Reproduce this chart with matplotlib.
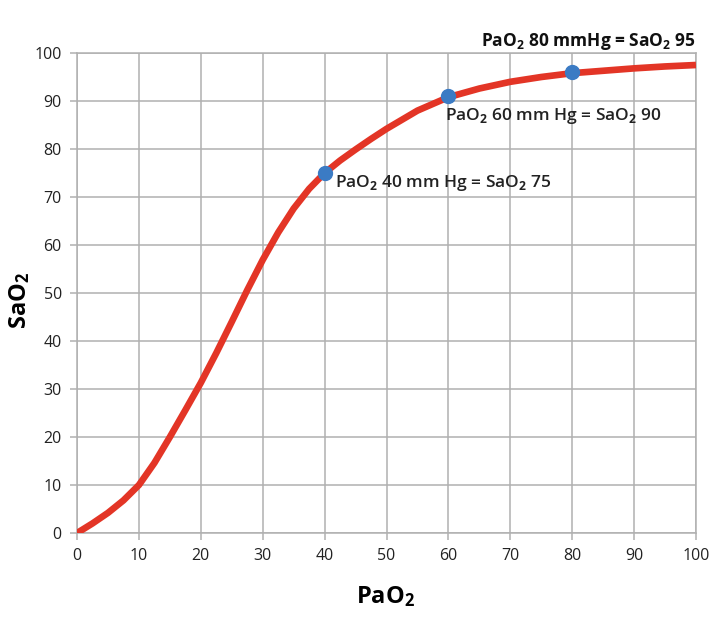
import matplotlib
matplotlib.use("Agg")
import matplotlib.pyplot as plt

plt.rcParams['font.family'] = ['Open Sans', 'DejaVu Sans']
plt.rcParams['mathtext.fontset'] = 'custom'
plt.rcParams['mathtext.rm'] = 'Open Sans:bold'
plt.rcParams['mathtext.default'] = 'rm'

# Data
pao2 = [0, 2.5, 5, 7.5, 10, 12.5, 15, 17.5, 20, 22.5, 25, 27.5, 30, 32.5, 35,
        37.5, 40, 42.5, 45, 47.5, 50, 55, 60, 65, 70, 75, 80, 85, 90, 95, 100]
sao2 = [0, 2.0, 4.2, 6.8, 10, 14.6, 20, 25.6, 31.3, 37.5, 44, 50.6, 56.9, 62.6, 67.6,
        71.7, 75, 77.6, 79.9, 82.1, 84.2, 88, 90.8, 92.6, 94, 95, 95.8, 96.3, 96.8, 97.2, 97.5]

mark_x = [40, 60, 80]
mark_y = [75, 91, 96]
notes = ['PaO$_2$ 40 mm Hg = SaO$_2$ 75',
         'PaO$_2$ 60 mm Hg = SaO$_2$ 90',
         'PaO$_2$ 80 mmHg = SaO$_2$ 95']

fig = plt.figure(figsize=(7.24, 6.2), dpi=100)
ax = fig.add_axes([0.1064, 0.1403, 0.8549, 0.7742])

ax.plot(pao2, sao2, color='#e33526', lw=4.8, solid_joinstyle='round',
        solid_capstyle='butt', zorder=3)
ax.plot(mark_x, mark_y, 'o', color='#3b7bc4', ms=10, zorder=4)

ax.set_xlim(0, 100)
ax.set_ylim(0, 100)
ax.set_xticks(range(0, 101, 10))
ax.set_yticks(range(0, 101, 10))
ax.grid(True, color='#b0b0b0', lw=1.1)
for s in ax.spines.values():
    s.set_color('#b0b0b0')
    s.set_linewidth(1.1)
ax.tick_params(length=5, width=1.1, color='#b0b0b0', labelsize=11.5,
               labelcolor='#222222', pad=6)

# axis titles
fig.text(0.533, 0.037, 'PaO$_2$', fontsize=17, fontweight='bold', ha='center', va='center')
fig.text(0.027, 0.516, 'SaO$_2$', fontsize=17, fontweight='bold', ha='center', va='center',
         rotation=90)

# annotations
ax.text(41.6, 73, notes[0], fontsize=12.5, fontweight='semibold', va='center', ha='left', color='#222222')
ax.text(59.4, 86.8, notes[1], fontsize=12.5, fontweight='semibold', va='center', ha='left', color='#222222')
ax.text(100, 102.4, notes[2], fontsize=12.5, fontweight='bold', va='center', ha='right',
        color='#111111', clip_on=False)

fig.savefig('out.png', dpi=100)
